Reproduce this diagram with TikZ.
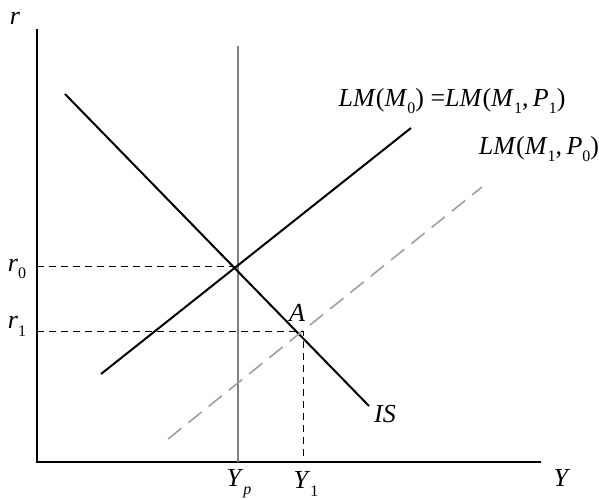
\documentclass[tikz,border=0pt]{standalone}
\usepackage{fontspec}
\setmainfont{Liberation Serif}
\usepackage{tikz}
\usetikzlibrary{positioning}
\newcommand{\itx}[1]{\textit{#1}}
\newcommand{\sbx}[1]{\raisebox{-0.3em}{\fontsize{16}{16}\selectfont #1}}

\begin{document}
\begin{tikzpicture}[
  x=1pt, y=-1pt,
  lbl/.style={inner sep=0pt, font=\fontsize{26}{30}\selectfont},
  axis/.style={line width=1.5pt},
  curve/.style={line width=2pt},
  potline/.style={line width=1.8pt, color=gray},
  newlm/.style={line width=1.6pt, color=gray!75, dash pattern=on 17pt off 9pt},
  guide/.style={line width=0.9pt, dash pattern=on 7pt off 5pt},
]
  \useasboundingbox (0,0) rectangle (599,500);

  % axes
  \coordinate (O) at (37,462);
  \coordinate (ytop) at (37,29);
  \coordinate (xend) at (541,462);
  \draw[axis] (ytop) -- (O) -- (xend);
  \node[lbl] (rlab) at (15,18) {\itx{r}};
  \node[lbl] (Ylab) at (562,478) {\itx{Y}};

  % potential output
  \coordinate (yptop) at (238,46);
  \coordinate (ypbot) at (238,462);
  \draw[potline] (yptop) -- (ypbot);

  % IS and LM curves
  \coordinate (is1) at (65,94);
  \coordinate (is2) at (369,406);
  \draw[curve] (is1) -- (is2);
  \coordinate (lm1) at (101,374);
  \coordinate (lm2) at (411,128);
  \draw[curve] (lm1) -- (lm2);
  \coordinate (nlm1) at (168,439);
  \coordinate (nlm2) at (482,187);
  \draw[newlm] (nlm1) -- (nlm2);

  % equilibria
  \coordinate (E0) at (238,266);
  \coordinate (A) at (303,331);
  \coordinate (r0pt) at (37,266);
  \coordinate (r1pt) at (37,331);
  \coordinate (y1pt) at (303,462);
  \draw[guide] (r0pt) -- (E0);
  \draw[guide] (r1pt) -- (A) -- (y1pt);

  % labels
  \node[lbl] (Alab) at (297,313) {\itx{A}};
  \node[lbl] (islab) at (385,414) {\itx{IS}};
  \node[lbl] (lm0lab) at (452,101) {\itx{LM}(\itx{M}\sbx{0}) =\itx{LM}(\itx{M}\sbx{1},\,\itx{P}\sbx{1})};
  \node[lbl] (lm1lab) at (539,149) {\itx{LM}(\itx{M}\sbx{1},\,\itx{P}\sbx{0})};
  \node[lbl] (r0lab) at (17,269) {\itx{r}\sbx{0}};
  \node[lbl] (r1lab) at (17,326) {\itx{r}\sbx{1}};
  \node[lbl] (yplab) at (239,484) {\itx{Y}\sbx{\itx{p}}};
  \node[lbl] (y1lab) at (306,484) {\itx{Y}\sbx{1}};
\end{tikzpicture}
\end{document}
